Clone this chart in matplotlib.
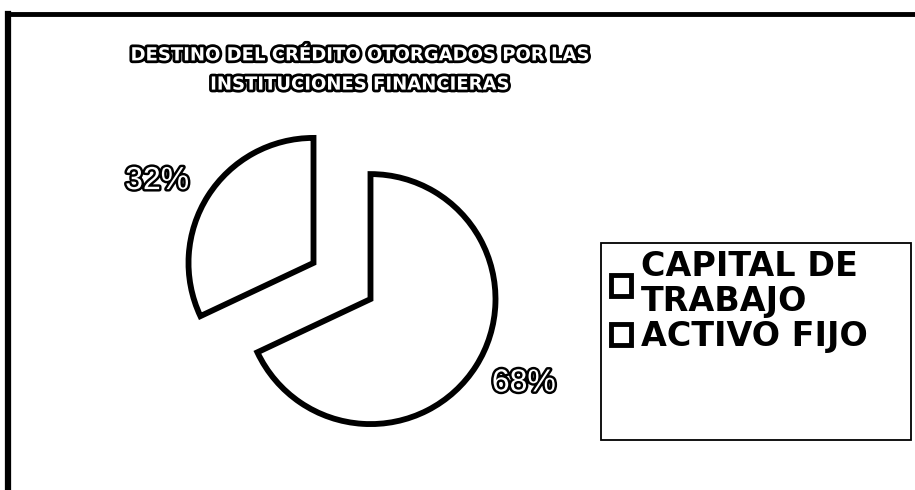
import matplotlib
matplotlib.use("Agg")
import matplotlib.pyplot as plt
import matplotlib.patheffects as pe
from matplotlib.patches import Rectangle
from matplotlib.lines import Line2D
import numpy as np

categories = ["CAPITAL DE\nTRABAJO", "ACTIVO FIJO"]
values = [68, 32]
pct_labels = ["68%", "32%"]
title = "DESTINO DEL CRÉDITO OTORGADOS POR LAS\nINSTITUCIONES FINANCIERAS"

plt.rcParams['font.family'] = ['Liberation Sans', 'DejaVu Sans']

W, H = 915, 490
fig = plt.figure(figsize=(W / 100, H / 100), dpi=100)

# outer frame (only top and left visible in the original)
fig.add_artist(Line2D([8 / W, 8 / W], [0, 1 - 14 / H], color="black", lw=4.5,
                      transform=fig.transFigure, solid_capstyle="projecting"))
fig.add_artist(Line2D([8 / W, 1], [1 - 14 / H, 1 - 14 / H], color="black", lw=3.5,
                      transform=fig.transFigure, solid_capstyle="projecting"))

fig.text(359 / W, 1 - 70 / H, title, ha="center", va="center", fontsize=13,
         family="DejaVu Sans", fontweight="bold", color="white", linespacing=1.8,
         path_effects=[pe.withStroke(linewidth=4, foreground="black")])

# pie axes: centre ~ (342, 281) px, radius ~125 px
r_px = 125
lim = 1.6
size = 2 * lim * r_px
cx, cy = 342, 281
ax = fig.add_axes([(cx - size / 2) / W, (H - cy - size / 2) / H, size / W, size / H])
wedges, texts = ax.pie(values, startangle=90, counterclock=False,
                       explode=[0.27, 0.27], labels=pct_labels, labeldistance=1.4,
                       colors=["white", "white"],
                       wedgeprops=dict(edgecolor="black", linewidth=4.2))
ax.set_xlim(-lim, lim)
ax.set_ylim(-lim, lim)
ax.set_aspect("equal")
ax.axis("off")

label_dist = [1.67, 1.68]
label_shift = [3.0, 4.0]
for t, w, d, s in zip(texts, wedges, label_dist, label_shift):
    ang = np.deg2rad((w.theta1 + w.theta2) / 2 + s)
    t.set_position((d * np.cos(ang), d * np.sin(ang)))
    t.set_ha("center")
    t.set_va("center")
    t.set_fontsize(23)
    t.set_color("white")
    t.set_path_effects([pe.withStroke(linewidth=3.5, foreground="black")])

# legend box
fig.add_artist(Rectangle((601 / W, 1 - 440 / H), 310 / W, 197 / H,
                         transform=fig.transFigure, fill=False, edgecolor="black", lw=1.3))
handles = [Rectangle((0, 0), 1, 1, facecolor="white", edgecolor="black", lw=3.5)
           for _ in categories]
leg = fig.legend(handles, categories, loc="upper left",
                 bbox_to_anchor=(608 / W, 1 - 247 / H), frameon=False,
                 prop=dict(size=24, weight="bold", family="DejaVu Sans"),
                 handlelength=0.6, handleheight=0.6,
                 handletextpad=0.3, labelspacing=0.08, borderaxespad=0, borderpad=0.1)
for t in leg.get_texts():
    t.set_linespacing(1.05)

fig.savefig("out.png", dpi=100, facecolor="white")
